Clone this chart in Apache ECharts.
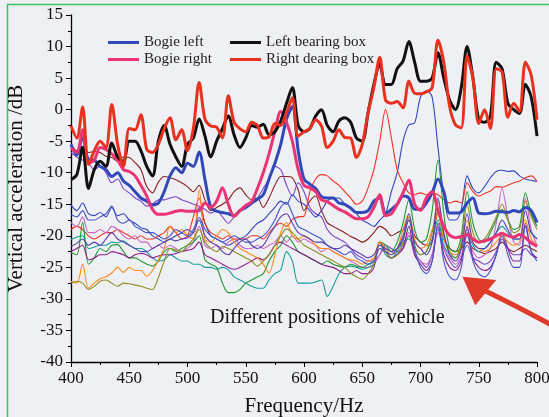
<!DOCTYPE html>
<html>
<head>
<meta charset="utf-8">
<script src="https://cdn.jsdelivr.net/npm/echarts@6/dist/echarts.min.js"></script>
<style>
  html, body { margin: 0; padding: 0; background: #eef0f3; }
  #chart { width: 549px; height: 417px; }
</style>
</head>
<body>
<div id="chart"></div>
<script>
// Frequency grid (Hz)
const freqHz = [400,405,410,415,420,425,430,435,440,445,
  450,455,460,465,470,475,480,485,490,495,
  500,505,510,515,520,525,530,535,540,545,
  550,555,560,565,570,575,580,585,590,595,
  600,605,610,615,620,625,630,635,640,645,
  650,655,660,665,670,675,680,685,690,695,
  700,705,710,715,720,725,730,735,740,745,
  750,755,760,765,770,775,780,785,790,795,
  800];

// Vertical acceleration levels (dB)
const bogieLeft = [-5.5,-7.2,-4.2,-7.9,-8.0,-9.0,-9.5,-10.6,-10.0,-11.3,
  -12.0,-13.0,-14.0,-14.5,-15.1,-14.8,-13.0,-10.5,-9.2,-10.0,
  -8.5,-9.0,-6.7,-11.1,-15.5,-16.1,-16.3,-16.5,-16.8,-16.0,
  -15.5,-14.8,-14.2,-13.5,-11.0,-8.5,-5.5,-1.5,0.5,-6.5,
  -11.0,-11.8,-12.5,-13.8,-14.0,-14.0,-14.8,-15.0,-15.6,-16.3,
  -16.3,-16.0,-14.5,-14.0,-16.5,-15.8,-15.0,-13.7,-14.0,-15.8,
  -15.8,-14.8,-13.2,-11.0,-13.0,-16.4,-16.4,-16.2,-14.8,-14.0,
  -16.4,-16.5,-16.4,-16.1,-16.2,-16.3,-16.0,-16.2,-15.5,-16.0,
  -17.9];

const bogieRight = [-6.1,-6.8,-3.2,-8.5,-8.0,-6.0,-6.3,-7.0,-8.0,-9.5,
  -9.8,-10.5,-12.0,-13.7,-15.8,-16.6,-16.6,-16.4,-16.1,-16.0,
  -16.1,-16.1,-16.0,-14.8,-15.5,-14.5,-12.4,-15.0,-16.9,-16.0,
  -15.2,-14.6,-12.5,-10.0,-7.0,-3.5,-0.3,-2.0,-5.0,-9.5,
  -12.0,-12.4,-13.0,-14.3,-14.6,-15.2,-15.8,-16.2,-16.8,-17.3,
  -17.3,-17.0,-15.5,-13.5,-16.8,-16.5,-15.0,-13.2,-11.2,-15.0,
  -16.0,-14.0,-13.0,-16.0,-18.5,-19.9,-20.3,-20.1,-19.8,-20.5,
  -21.0,-20.8,-20.5,-20.0,-19.6,-20.0,-20.2,-19.8,-20.3,-21.1,
  -21.7];

const leftBearingBox = [-11.1,-10.3,-6.0,-12.5,-9.5,-8.2,-9.0,-5.3,-7.5,-8.2,
  -5.0,-5.0,-6.5,-9.0,-10.5,-5.0,-2.5,-5.5,-7.5,-9.0,
  -5.5,-4.5,-1.5,-4.2,-7.5,-5.0,-3.0,-1.0,-4.0,-6.0,
  -4.5,-2.5,-2.8,-2.3,-4.0,-3.5,-1.8,1.0,3.5,-2.5,
  -3.5,-3.0,-1.0,0.0,-2.5,-3.5,-1.8,-1.3,-2.0,-4.5,
  -5.0,-0.5,4.0,7.2,4.0,4.0,6.5,7.7,10.8,7.5,
  4.5,4.5,5.0,9.0,5.0,1.5,0.0,3.5,10.0,5.0,
  -1.6,-2.0,-1.0,7.5,6.5,1.0,0.0,-0.6,4.0,2.0,
  -4.2];

const rightBearingBox = [-2.6,-4.5,0.4,-8.7,-6.5,-5.0,-6.0,0.8,-5.5,-9.0,
  -3.0,-3.2,-0.8,-6.3,-6.8,-5.5,-3.0,-1.3,-4.8,-3.2,
  -6.5,-3.0,4.3,-1.5,-2.6,-2.8,-4.5,2.2,-2.0,-3.0,
  -3.5,-2.0,-2.5,-4.5,-4.3,-2.2,-2.5,-0.5,1.9,-4.2,
  -3.5,-3.0,-1.6,-2.6,-6.0,-5.0,-3.2,-4.4,-4.5,-7.6,
  -5.5,-0.5,3.5,8.3,1.5,1.0,1.3,0.3,4.5,2.6,
  2.5,2.8,3.5,11.0,7.5,0.5,-2.4,-2.9,8.5,5.0,
  -2.2,0.0,-3.0,6.5,6.0,-1.2,1.0,-0.3,7.5,5.5,
  -1.6];

// Other measuring positions on the vehicle
const pos1 = [-5.5,-6.5,-5.8,-6.8,-6.6,-6.8,-7.4,-7.6,-8.2,-7.5,
  -7.6,-8.4,-9.5,-12.2,-13.2,-11.5,-10.6,-10.8,-11.1,-11.6,
  -12.2,-13.0,-12.0,-14.3,-16.0,-15.5,-15.0,-14.3,-13.0,-12.4,
  -13.5,-14.3,-14.0,-15.5,-14.0,-12.0,-10.6,-10.6,-10.8,-12.7,
  -16.0,-14.5,-13.7,-16.0,-17.9,-18.5,-19.0,-19.5,-20.1,-20.5,
  -21.0,-20.5,-19.5,-18.5,-19.0,-20.0,-19.5,-19.0,-17.5,-20.0,
  -21.0,-21.5,-21.0,-16.0,-20.5,-22.0,-22.5,-22.0,-21.0,-22.0,
  -22.5,-22.8,-22.5,-22.0,-21.0,-22.0,-22.5,-22.0,-21.5,-22.0,
  -22.5];

const pos2 = [-6.8,-7.5,-8.0,-8.5,-9.5,-9.0,-10.0,-11.6,-11.0,-12.5,
  -13.2,-14.0,-14.5,-15.3,-15.0,-14.3,-14.3,-14.0,-13.8,-14.3,
  -14.6,-15.0,-15.3,-15.8,-16.4,-16.0,-17.0,-18.0,-17.0,-16.0,
  -15.5,-15.0,-14.0,-12.5,-11.0,-9.0,-9.5,-12.0,-13.7,-11.6,
  -13.0,-15.5,-16.5,-17.0,-19.0,-20.0,-20.5,-21.0,-22.0,-23.0,
  -23.5,-24.0,-24.0,-23.0,-21.5,-22.0,-22.5,-22.0,-20.0,-23.0,
  -24.0,-25.0,-23.0,-19.0,-22.0,-24.0,-25.0,-23.5,-21.5,-23.5,
  -24.0,-24.5,-24.0,-22.5,-20.5,-22.0,-23.0,-23.0,-22.0,-23.0,
  -23.5];

const pos3 = [-15.1,-16.0,-14.8,-16.5,-16.8,-16.3,-17.0,-15.5,-16.8,-16.5,
  -17.5,-18.0,-18.7,-19.0,-20.0,-20.5,-21.0,-20.5,-20.0,-19.5,
  -19.0,-19.5,-15.5,-18.0,-20.0,-20.5,-21.0,-21.5,-21.0,-20.5,
  -20.0,-19.0,-18.0,-17.5,-16.5,-15.5,-14.5,-15.0,-13.5,-14.5,
  -15.0,-16.0,-17.0,-16.0,-14.5,-14.0,-14.0,-15.0,-15.5,-16.5,
  -17.5,-18.0,-18.5,-17.5,-16.5,-13.0,-10.0,-5.0,-2.4,-2.1,
  2.0,3.0,2.0,-6.0,-13.5,-17.5,-17.5,-15.8,-10.5,-12.5,
  -13.2,-12.2,-10.8,-9.8,-9.6,-9.8,-9.7,-10.5,-11.0,-11.2,
  -11.4];

const pos4 = [-19.0,-18.5,-19.0,-20.0,-20.5,-20.0,-19.5,-19.5,-19.0,-19.5,
  -20.0,-20.5,-20.0,-20.5,-20.5,-20.0,-19.5,-18.5,-19.5,-20.5,
  -20.0,-17.0,-14.0,-18.0,-19.5,-20.0,-20.5,-20.0,-20.5,-20.5,
  -20.5,-20.0,-20.0,-20.5,-19.5,-18.5,-18.0,-18.5,-17.4,-17.0,
  -16.9,-13.0,-11.0,-10.3,-10.5,-11.3,-12.0,-13.0,-14.0,-15.0,
  -14.5,-12.4,-9.5,-5.0,0.0,-4.5,-9.5,-11.6,-13.2,-13.5,
  -13.2,-13.5,-13.2,-13.5,-14.3,-14.8,-14.5,-14.8,-11.6,-13.0,
  -13.7,-13.3,-12.9,-12.2,-12.3,-12.0,-11.6,-11.3,-10.8,-10.5,
  -11.4];

const pos5 = [-17.9,-18.5,-17.0,-19.5,-19.5,-19.0,-19.5,-18.5,-19.0,-20.0,
  -20.5,-20.0,-21.0,-21.0,-22.0,-21.5,-22.0,-21.5,-22.0,-22.5,
  -22.0,-21.0,-18.5,-21.5,-22.0,-21.5,-22.0,-21.0,-20.5,-21.5,
  -22.0,-22.0,-21.5,-22.0,-21.5,-21.0,-20.0,-21.0,-20.0,-21.0,
  -20.5,-21.0,-21.5,-22.5,-22.0,-22.5,-23.0,-23.5,-24.0,-24.5,
  -25.0,-25.0,-24.5,-23.0,-22.0,-22.5,-23.0,-21.5,-19.5,-22.5,
  -24.0,-24.5,-23.0,-19.5,-22.0,-23.5,-24.5,-23.0,-20.0,-22.5,
  -23.5,-23.0,-22.0,-18.0,-12.5,-17.0,-21.0,-21.5,-14.0,-19.0,
  -21.5];

const pos6 = [-20.6,-20.2,-20.0,-22.0,-21.8,-21.5,-21.5,-21.0,-21.1,-20.8,
  -21.5,-22.0,-22.0,-22.5,-23.5,-24.0,-23.8,-23.0,-23.5,-24.0,
  -24.0,-24.5,-24.5,-25.0,-25.0,-25.3,-25.0,-25.4,-26.5,-27.0,
  -27.5,-28.0,-28.3,-28.3,-27.0,-26.0,-25.4,-22.5,-24.0,-27.5,
  -27.5,-27.5,-27.3,-27.0,-29.6,-28.0,-26.0,-25.0,-24.8,-25.0,
  -25.3,-25.0,-24.5,-21.0,-23.0,-23.5,-22.5,-21.0,-20.5,-22.0,
  -23.0,-22.5,-20.5,-17.5,-21.5,-23.0,-23.5,-22.0,-19.0,-21.5,
  -22.5,-22.0,-21.0,-19.5,-18.5,-19.5,-20.5,-20.5,-18.5,-19.5,
  -20.5];

const pos7 = [-22.7,-23.0,-17.8,-24.5,-23.5,-22.0,-22.5,-21.5,-21.4,-22.5,
  -23.5,-23.5,-24.0,-24.5,-24.8,-24.0,-22.5,-22.0,-22.5,-22.0,
  -21.5,-21.0,-20.0,-23.8,-24.5,-25.0,-27.5,-29.0,-29.0,-28.5,
  -27.5,-27.0,-26.5,-26.0,-24.0,-22.5,-21.5,-20.0,-21.0,-22.5,
  -23.0,-23.5,-24.0,-24.5,-24.0,-24.5,-24.8,-25.0,-24.5,-24.8,
  -25.0,-24.5,-24.0,-21.0,-21.5,-22.5,-21.0,-18.0,-14.3,-19.0,
  -21.0,-20.5,-16.0,-8.0,-16.5,-22.0,-22.5,-20.0,-13.0,-18.0,
  -20.5,-21.0,-19.5,-17.5,-15.8,-17.5,-19.0,-18.5,-13.2,-16.5,
  -18.5];

const pos8 = [-22.5,-22.0,-21.5,-23.8,-23.5,-23.0,-23.0,-22.5,-22.7,-23.0,
  -23.5,-23.0,-22.8,-23.0,-23.5,-23.2,-23.0,-23.0,-22.8,-22.5,
  -22.3,-22.0,-21.0,-23.0,-23.5,-24.0,-24.5,-25.0,-25.3,-25.0,
  -24.5,-24.0,-23.5,-23.8,-23.0,-21.5,-21.0,-21.5,-22.0,-22.5,
  -23.0,-23.5,-24.0,-24.5,-24.8,-25.0,-25.5,-26.0,-26.0,-25.5,
  -26.0,-26.0,-25.0,-21.0,-22.5,-23.5,-23.0,-22.0,-18.5,-23.0,
  -24.5,-25.5,-24.0,-18.0,-23.0,-25.0,-25.5,-24.0,-18.5,-23.5,
  -25.0,-25.5,-25.0,-23.0,-19.5,-22.0,-24.0,-24.0,-18.0,-22.5,
  -23.5];

const pos9 = [-27.2,-27.5,-24.5,-28.3,-27.5,-26.8,-26.5,-25.9,-25.0,-25.8,
  -25.0,-25.5,-25.5,-26.4,-25.5,-23.8,-22.0,-18.5,-19.5,-19.0,
  -20.0,-20.5,-12.7,-20.6,-21.0,-20.0,-19.0,-19.5,-21.0,-22.0,
  -22.5,-23.0,-23.5,-24.5,-25.9,-23.0,-19.5,-17.9,-20.0,-20.5,
  -20.0,-20.5,-21.5,-22.0,-22.0,-22.5,-23.0,-23.5,-23.8,-24.0,
  -24.5,-24.0,-23.5,-21.0,-22.0,-23.0,-22.0,-19.0,-16.5,-20.5,
  -22.0,-21.5,-19.0,-16.5,-20.5,-22.5,-23.0,-21.5,-17.5,-21.0,
  -22.0,-22.5,-22.0,-21.0,-20.0,-21.0,-21.5,-21.0,-17.5,-20.5,
  -21.5];

const pos10 = [-27.5,-27.2,-27.5,-28.5,-28.0,-27.2,-27.0,-27.5,-28.0,-27.5,
  -27.6,-27.8,-28.0,-28.3,-28.5,-26.6,-24.0,-22.0,-22.2,-22.5,
  -21.5,-20.5,-19.0,-21.0,-22.0,-22.5,-21.7,-22.0,-22.5,-23.0,
  -23.5,-24.0,-24.8,-24.0,-23.0,-21.5,-20.0,-18.9,-19.5,-20.5,
  -21.5,-22.0,-22.5,-23.0,-23.5,-24.0,-24.5,-25.0,-25.9,-26.5,
  -26.9,-26.0,-24.5,-22.0,-22.5,-23.5,-23.0,-21.0,-17.0,-21.5,
  -23.0,-22.5,-19.5,-14.5,-20.0,-22.5,-23.5,-21.0,-15.0,-19.5,
  -21.0,-20.5,-19.0,-17.0,-15.0,-17.5,-19.5,-19.0,-14.5,-17.0,
  -19.0];

const pos11 = [-16.6,-17.0,-16.0,-17.5,-17.5,-17.0,-16.5,-15.3,-17.5,-18.0,
  -17.5,-18.5,-19.0,-19.5,-19.5,-20.0,-20.5,-20.0,-19.0,-19.5,
  -20.0,-19.0,-17.1,-19.0,-20.0,-20.5,-21.0,-20.5,-20.0,-20.5,
  -21.0,-21.0,-20.5,-20.0,-19.0,-17.5,-15.5,-14.7,-16.5,-18.5,
  -19.0,-19.5,-20.0,-20.5,-21.5,-22.0,-22.5,-23.0,-22.5,-23.5,
  -24.0,-24.5,-24.0,-22.0,-22.5,-23.0,-22.0,-20.0,-16.5,-22.0,
  -25.0,-26.0,-24.0,-18.5,-24.0,-26.5,-27.0,-25.0,-19.5,-24.0,
  -26.0,-26.5,-25.5,-23.0,-20.0,-23.0,-25.0,-25.0,-18.5,-22.5,
  -24.0];

const pos12 = [-21.7,-21.2,-20.5,-21.5,-21.0,-21.5,-20.5,-19.5,-20.5,-21.0,
  -21.5,-22.0,-22.5,-22.5,-22.0,-21.5,-21.0,-20.5,-20.8,-20.5,
  -20.3,-19.5,-17.5,-20.0,-21.0,-21.5,-22.5,-23.0,-22.0,-21.0,
  -20.5,-21.5,-22.0,-21.5,-20.0,-18.5,-17.0,-16.5,-18.0,-19.5,
  -20.0,-20.5,-21.0,-21.0,-21.5,-22.0,-22.0,-21.5,-22.0,-22.5,
  -23.0,-23.5,-23.0,-21.5,-22.0,-22.5,-22.0,-20.5,-17.5,-21.0,
  -22.0,-23.0,-21.0,-14.0,-19.5,-23.0,-24.0,-22.0,-16.5,-21.0,
  -22.0,-22.0,-21.0,-19.5,-17.5,-19.0,-20.5,-20.5,-16.0,-19.5,
  -20.5];

const yTicks = { min: -40, max: 15, step: 5 };
const xTicks = { min: 400, max: 800, step: 50 };

const serif = 'Liberation Serif, Times New Roman, serif';

const thinLines = [
  { name: 'Position 1', values: pos1, color: '#8b1f1f' },
  { name: 'Position 2', values: pos2, color: '#7a45c8' },
  { name: 'Position 3', values: pos3, color: '#3344c0' },
  { name: 'Position 4', values: pos4, color: '#ee3322' },
  { name: 'Position 5', values: pos5, color: '#cc66cc' },
  { name: 'Position 6', values: pos6, color: '#169c9c' },
  { name: 'Position 7', values: pos7, color: '#1f9933' },
  { name: 'Position 8', values: pos8, color: '#8e1e8e' },
  { name: 'Position 9', values: pos9, color: '#ff8a1a' },
  { name: 'Position 10', values: pos10, color: '#8f8f1f' },
  { name: 'Position 11', values: pos11, color: '#4455cc' },
  { name: 'Position 12', values: pos12, color: '#5b3cb0' }
];

const thickLines = [
  { name: 'Bogie left', values: bogieLeft, color: '#3048b8' },
  { name: 'Bogie right', values: bogieRight, color: '#ec3474' },
  { name: 'Left bearing box', values: leftBearingBox, color: '#111111' },
  { name: 'Right dearing box', values: rightBearingBox, color: '#e8321f' }
];

const pairUp = vals => freqHz.map((f, i) => [f, vals[i]]);

const series = [];
thinLines.forEach(s => series.push({
  name: s.name, type: 'line', data: pairUp(s.values), showSymbol: false,
  smooth: 0.3, lineStyle: { color: s.color, width: 1.1 }, itemStyle: { color: s.color },
  silent: true
}));
thickLines.forEach(s => series.push({
  name: s.name, type: 'line', data: pairUp(s.values), showSymbol: false,
  smooth: 0.3, lineStyle: { color: s.color, width: 3 }, itemStyle: { color: s.color },
  silent: true
}));

const legendText = { fontFamily: serif, fontSize: 15, color: '#222', lineHeight: 15 };
const tickText = { fontFamily: serif, fontSize: 17, color: '#111', margin: 8 };
const titleText = { fontFamily: serif, fontSize: 21, color: '#111' };

const chart = echarts.init(document.getElementById('chart'), null, { renderer: 'canvas' });
chart.setOption({
  animation: false,
  backgroundColor: '#eef0f3',
  grid: { left: 71, right: 12, top: 15, bottom: 55, containLabel: false, outerBoundsMode: 'none' },
  legend: [
    { data: ['Bogie left', 'Bogie right'], orient: 'vertical', left: 103, top: 30,
      icon: 'rect', itemWidth: 31, itemHeight: 3, itemGap: 2, textStyle: legendText, selectedMode: false },
    { data: ['Left bearing box', 'Right dearing box'], orient: 'vertical', left: 225, top: 30,
      icon: 'rect', itemWidth: 31, itemHeight: 3, itemGap: 2, textStyle: legendText, selectedMode: false }
  ],
  xAxis: {
    type: 'value', min: xTicks.min, max: xTicks.max, interval: xTicks.step,
    name: 'Frequency/Hz', nameLocation: 'middle', nameGap: 34,
    nameTextStyle: titleText,
    axisLine: { onZero: false, lineStyle: { color: '#000', width: 1.3 } },
    axisTick: { length: 5, lineStyle: { color: '#000' } },
    minorTick: { show: true, splitNumber: 2, length: 3, lineStyle: { color: '#000' } },
    splitLine: { show: false },
    axisLabel: tickText
  },
  yAxis: {
    type: 'value', min: yTicks.min, max: yTicks.max, interval: yTicks.step,
    name: 'Vertical acceleration /dB', nameLocation: 'middle', nameGap: 44,
    nameTextStyle: titleText,
    axisLine: { show: true, onZero: false, lineStyle: { color: '#000', width: 1.3 } },
    axisTick: { show: true, length: 5, lineStyle: { color: '#000' } },
    minorTick: { show: true, splitNumber: 2, length: 3, lineStyle: { color: '#000' } },
    splitLine: { show: false },
    axisLabel: tickText
  },
  series: series
});

// Annotation: caption and curved arrow pointing at the cluster of thin curves
const arrowTip = [736, -26.5];
const arrowWingA = [747, -31.0];
const arrowWingB = [765, -27.0];
const shaftStart = [754, -28.6];
const shaftCtrl = [781, -31.0];
const shaftEnd = [815, -34.4];
const px = p => chart.convertToPixel({ gridIndex: 0 }, p);
const [tip, wa, wb, s0, sc, s1] = [arrowTip, arrowWingA, arrowWingB, shaftStart, shaftCtrl, shaftEnd].map(px);

chart.setOption({
  graphic: [
    { type: 'rect', left: 5, top: 2, silent: true,
      shape: { width: 600, height: 414 },
      style: { fill: 'none', stroke: '#3cc064', lineWidth: 1.5 } },
    { type: 'text', left: 210, top: 308, silent: true,
      style: { text: 'Different positions of vehicle', font: '20px ' + serif, fill: '#111' } },
    { type: 'bezierCurve', silent: true,
      shape: { x1: s0[0], y1: s0[1], cpx1: sc[0], cpy1: sc[1], x2: s1[0], y2: s1[1] },
      style: { stroke: '#e03a2a', lineWidth: 5, fill: 'none' } },
    { type: 'polygon', silent: true,
      shape: { points: [tip, wa, wb] },
      style: { fill: '#e03a2a' } }
  ]
});
</script>
</body>
</html>
